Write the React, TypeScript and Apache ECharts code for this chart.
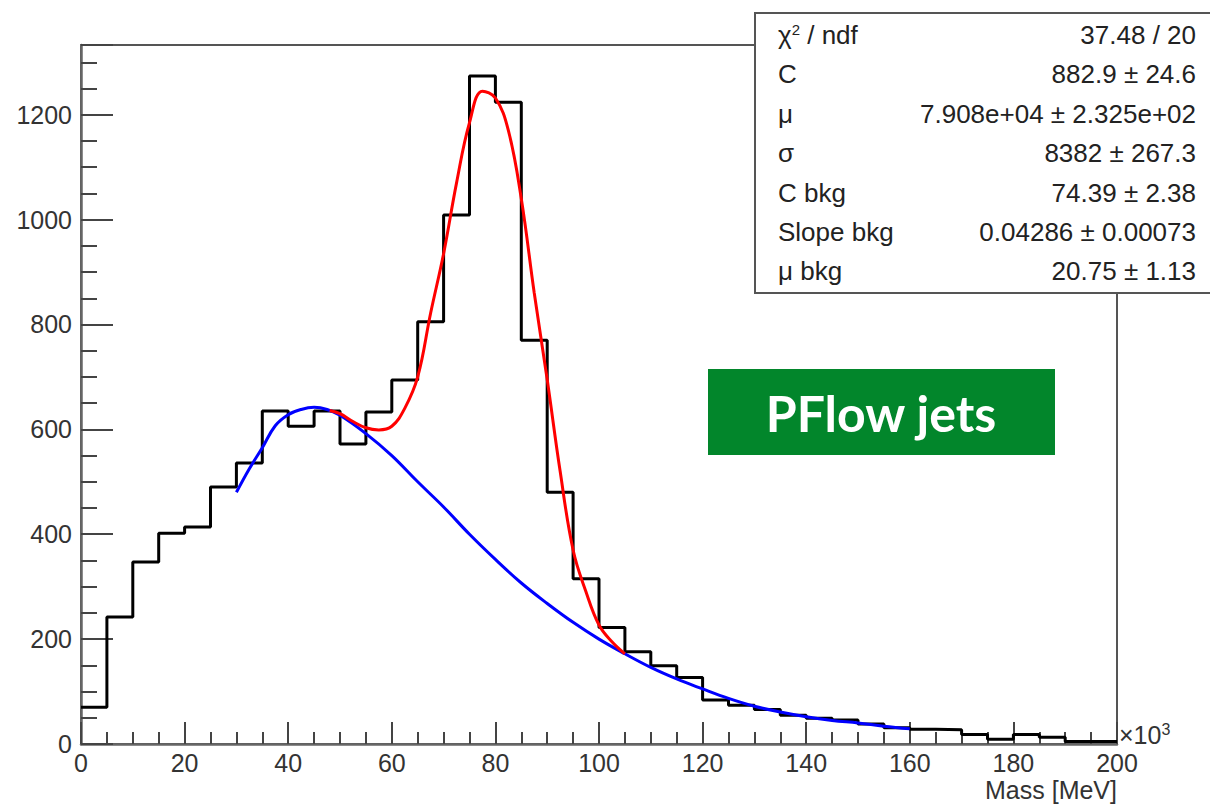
import React, { useEffect, useRef } from "react";
import * as echarts from "echarts";

// Histogram: bin lower edges (×10^3 MeV) and counts
const binEdges = [0,5,10,15,20,25,30,35,40,45,50,55,60,65,70,75,80,85,90,95,100,105,110,115,120,125,130,135,140,145,150,155,160,165,170,175,180,185,190,195];
const binCounts = [70,242,347,402,414,490,536,635,606,635,572,633,694,805,1009,1274,1224,770,480,315,222,176,149,127,84,74,66,55,49,46,38,31,28,27,18,9,18,13,5,5];
const histMax = 200;

// Background fit curve (blue)
const bkgX = [30,32.5,35,37.5,40,42.5,45,47.5,50,55,60,65,70,75,80,85,90,95,100,105,110,115,120,125,130,135,140,145,150,155,160];
const bkgY = [480,525,565,607,628,638,642,638,627,592,550,500,452,400,352,307,268,232,200,172,146,124,105,87,72,61,52,45,40,34,29];

// Total fit curve (red)
const fitX = [48,50,52.5,55,57.5,60,62.5,65,67.5,70,72.5,75,77.5,80,82.5,85,87.5,90,92.5,95,97.5,100,102.5,105];
const fitY = [636,630,615,603,599,606,640,700,822,935,1070,1185,1245,1232,1170,1040,860,695,520,370,290,227,195,172];

const xTicks = [0,20,40,60,80,100,120,140,160,180,200];
const yMax = 1333;

const statsLabels = ["{g|χ}{sup|2}{g| / ndf}", "C", "μ", "σ", "C bkg", "Slope bkg", "μ bkg"];
const statsValues = ["37.48 / 20", "882.9 ± 24.6", "7.908e+04 ± 2.325e+02", "8382 ± 267.3", "74.39 ± 2.38", "0.04286 ± 0.00073", "20.75 ± 1.13"];

const FONT = "'Liberation Sans', Arial, Helvetica, sans-serif";

export default function App() {
  const ref = useRef<HTMLDivElement>(null);
  useEffect(() => {
    if (!ref.current) return;
    const chart = echarts.init(ref.current, undefined, { renderer: "svg" });

    const histData: number[][] = binEdges.map((e, i) => [e, binCounts[i]]);
    histData.push([histMax, binCounts[binCounts.length - 1]]);
    const bkgData = bkgX.map((x, i) => [x, bkgY[i]]);
    const fitData = fitX.map((x, i) => [x, fitY[i]]);

    const rowTop = 35;
    const rowStep = 39.4;
    const statsGraphics: any[] = [];
    statsLabels.forEach((lab, i) => {
      statsGraphics.push({
        type: "text",
        x: 778,
        y: rowTop + i * rowStep,
        z: 20,
        style: {
          text: lab,
          fill: "#222",
          font: `26px ${FONT}`,
          textVerticalAlign: "middle",
          rich: {
            g: { fontSize: 26, fontFamily: FONT, fill: "#222" },
            sup: { fontSize: 15, fontFamily: FONT, fill: "#222", verticalAlign: "top", padding: [0, 0, 12, 0] },
          },
        },
      });
      statsGraphics.push({
        type: "text",
        x: 1196,
        y: rowTop + i * rowStep,
        z: 20,
        style: {
          text: statsValues[i],
          fill: "#222",
          font: `26px ${FONT}`,
          textAlign: "right",
          textVerticalAlign: "middle",
        },
      });
    });

    chart.setOption({
      animation: false,
      backgroundColor: "#fff",
      grid: {
        left: 81,
        right: 93,
        top: 45,
        bottom: 62,
        show: true,
        borderColor: "#555",
        borderWidth: 2,
        backgroundColor: "transparent",
      },
      xAxis: {
        type: "value",
        min: 0,
        max: histMax,
        interval: 20,
        axisLine: { show: true, onZero: false, lineStyle: { color: "#666", width: 2.5 } },
        axisTick: { show: true, inside: true, length: 22, lineStyle: { color: "#444", width: 2 } },
        minorTick: { show: true, splitNumber: 4, length: 12, lineStyle: { color: "#444", width: 2 } },
        splitLine: { show: false },
        axisLabel: {
          color: "#333",
          fontSize: 25,
          fontFamily: FONT,
          margin: 6,
          lineHeight: 26,
          formatter: (v: number) => (xTicks.includes(v) ? String(v) : ""),
        },
      },
      yAxis: [
        {
          type: "value",
          min: 0,
          max: yMax,
          interval: 200,
          axisLine: { show: true, onZero: false, lineStyle: { color: "#666", width: 2.5 } },
          axisTick: { show: true, inside: true, length: 32, lineStyle: { color: "#444", width: 2 } },
          splitLine: { show: false },
          axisLabel: {
            color: "#333",
            fontSize: 25,
            fontFamily: FONT,
            margin: 9,
            formatter: (v: number) => (v % 200 === 0 ? String(v) : ""),
          },
        },
        {
          type: "value",
          min: 0,
          max: yMax,
          interval: 50,
          position: "left",
          axisLine: { show: false },
          axisTick: { show: true, inside: true, length: 16, lineStyle: { color: "#444", width: 2 } },
          splitLine: { show: false },
          axisLabel: { show: false },
        },
      ],
      series: [
        {
          type: "line",
          name: "hist",
          data: histData,
          step: "end",
          symbol: "none",
          lineStyle: { color: "#000", width: 3 },
          z: 3,
        },
        {
          type: "line",
          name: "bkg",
          data: bkgData,
          smooth: 0.4,
          symbol: "none",
          lineStyle: { color: "#0000ff", width: 3 },
          z: 4,
        },
        {
          type: "line",
          name: "fit",
          data: fitData,
          smooth: 0.4,
          symbol: "none",
          lineStyle: { color: "#ff0000", width: 3 },
          z: 5,
        },
      ],
      graphic: [
        {
          type: "rect",
          shape: { x: 755, y: 13, width: 470, height: 280 },
          z: 10,
          style: { fill: "#fff", stroke: "#555", lineWidth: 2 },
        },
        ...statsGraphics,
        {
          type: "rect",
          shape: { x: 708, y: 369, width: 347, height: 86 },
          z: 10,
          style: { fill: "#02862b" },
        },
        {
          type: "text",
          x: 881,
          y: 413,
          z: 11,
          style: {
            text: "PFlow jets",
            fill: "#fff",
            font: `bold 50px Lato, 'Open Sans', sans-serif`,
            textAlign: "center",
            textVerticalAlign: "middle",
          },
        },
        {
          type: "text",
          x: 1119,
          y: 735,
          z: 11,
          style: {
            text: "×10{sup|3}",
            fill: "#333",
            font: `25px ${FONT}`,
            textVerticalAlign: "middle",
            rich: {
              sup: { fontSize: 16, fontFamily: FONT, fill: "#333", verticalAlign: "top", padding: [0, 0, 12, 0] },
            },
          },
        },
        {
          type: "text",
          x: 1117,
          y: 790,
          z: 11,
          style: {
            text: "Mass [MeV]",
            fill: "#333",
            font: `25px ${FONT}`,
            textAlign: "right",
            textVerticalAlign: "middle",
          },
        },
      ],
    });

    return () => chart.dispose();
  }, []);

  return (
    <div
      ref={ref}
      style={{ position: "absolute", left: 0, top: 0, width: 1210, height: 806 }}
    />
  );
}
